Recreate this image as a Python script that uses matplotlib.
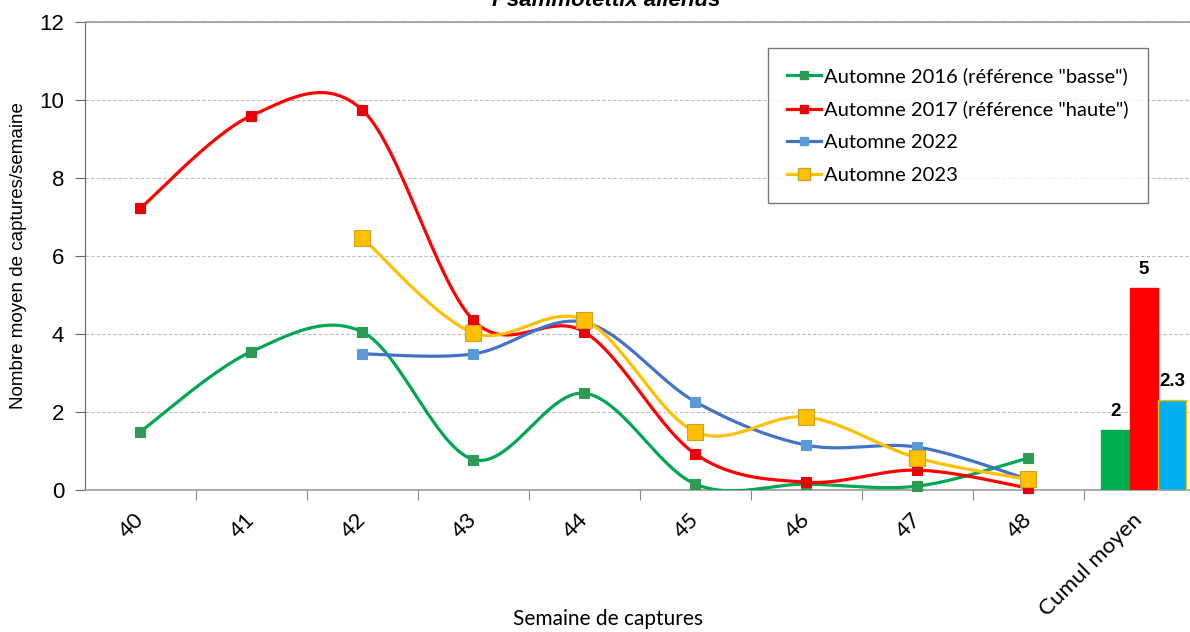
import numpy as np
import matplotlib
matplotlib.use("Agg")
import matplotlib.pyplot as plt
from matplotlib.lines import Line2D

# données
semaines = ["40", "41", "42", "43", "44", "45", "46", "47", "48"]
cumul_label = "Cumul moyen"

aut2016 = [1.5, 3.55, 4.05, 0.78, 2.48, 0.15, 0.15, 0.1, 0.82]
aut2017 = [7.23, 9.6, 9.74, 4.35, 4.05, 0.92, 0.2, 0.51, 0.05]
aut2022 = [None, None, 3.49, 3.49, 4.3, 2.26, 1.15, 1.1, 0.27]
aut2023 = [None, None, 6.46, 4.03, 4.36, 1.49, 1.87, 0.82, 0.27]

cumul_vals = [1.54, 5.18, 2.31]
cumul_txt = ["2", "5", "2.3"]


def lissage(x, y, n=30):
    # courbe lissée façon Excel (bezier, tension 1/6)
    p = np.column_stack([x, y]).astype(float)
    ext = np.vstack([p[0], p, p[-1]])
    out = []
    t = np.linspace(0, 1, n)[:, None]
    for i in range(len(p) - 1):
        p0, p3 = ext[i + 1], ext[i + 2]
        c1 = p0 + (ext[i + 2] - ext[i]) / 6
        c2 = p3 - (ext[i + 3] - ext[i + 1]) / 6
        seg = ((1 - t) ** 3) * p0 + 3 * ((1 - t) ** 2) * t * c1 + 3 * (1 - t) * t ** 2 * c2 + t ** 3 * p3
        out.append(seg)
    s = np.vstack(out)
    return s[:, 0], s[:, 1]


fig = plt.figure(figsize=(11.9, 6.32), dpi=100)
ax = fig.add_axes([85 / 1190, 142 / 632, 1105 / 1190, 468 / 632])

series = [
    (aut2016, "Automne 2016 (référence \"basse\")", "#00A651", "#2E9B55", "#2E9B55", 7.5),
    (aut2017, "Automne 2017 (référence \"haute\")", "#FF0000", "#E8000B", "#E8000B", 7.5),
    (aut2022, "Automne 2022", "#4472C4", "#5B9BD5", "#5B9BD5", 7.5),
    (aut2023, "Automne 2023", "#FFC000", "#FFC000", "#C9A227", 11),
]

handles = []
for vals, lab, lc, mc, me, ms in series:
    xs = [i for i, v in enumerate(vals) if v is not None]
    ys = [v for v in vals if v is not None]
    sx, sy = lissage(xs, ys)
    ax.plot(sx, sy, color=lc, lw=2.3, zorder=3, clip_on=True)
    ax.plot(xs, ys, ls="none", marker="s", ms=ms, mfc=mc, mec=me, mew=0.8, zorder=4, clip_on=False)
    handles.append(Line2D([], [], color=lc, lw=2.3, marker="s", ms=ms * 0.85, mfc=mc, mec=me, label=lab))

# barres du cumul moyen
bw = 0.255
bx = [9.04 - bw, 9.04, 9.04 + bw]
bcol = ["#00B050", "#FF0000", "#00B0F0"]
bedge = ["#00B050", "#FF0000", "#FFC000"]
ax.bar(bx, cumul_vals, width=bw, color=bcol, edgecolor=bedge, linewidth=1, zorder=3)
for x, v, t in zip(bx, cumul_vals, cumul_txt):
    ax.text(x, v + 0.25, t, ha="center", va="bottom", fontsize=13.5, fontweight="bold",
            family="Liberation Sans", zorder=5)

ax.set_ylim(0, 12)
ax.set_xlim(-0.5, 9.455)
ax.set_yticks(range(0, 13, 2))
ax.yaxis.grid(True, ls=(0, (3, 2)), color="#BBBBBB", lw=0.8)
ax.set_axisbelow(True)

ax.set_xticks(np.arange(0.5, 9.5, 1.0), minor=False)
ax.set_xticklabels([])
ax.set_xticks(range(10), minor=True)
ax.set_xticklabels(semaines + [cumul_label], minor=True, rotation=45, ha="right",
                   va="center", rotation_mode="anchor", fontsize=16, family="Lato")
ax.tick_params(axis="x", which="minor", length=0, pad=19)
ax.tick_params(axis="x", which="major", length=7, color="#888888", direction="out")
ax.tick_params(axis="y", length=7, color="#666666", labelsize=16, pad=8)
for lab in ax.get_yticklabels():
    lab.set_family("Liberation Sans")

for sp in ["top", "bottom"]:
    ax.spines[sp].set_color("#999999")
    ax.spines[sp].set_linewidth(1.2)
ax.spines["left"].set_color("#666666")
ax.spines["right"].set_visible(False)

ax.set_ylabel("Nombre moyen de captures/semaine", fontsize=13.5, family="Liberation Sans", labelpad=9)
fig.text(608 / 1190, 3 / 632, "Semaine de captures", ha="center", va="bottom", fontsize=15, family="Lato")
fig.text(606 / 1190, 1 - 6 / 632, "Psammotettix alienus", ha="center", va="baseline",
         fontsize=16, fontweight="bold", style="italic", family="Liberation Sans")

leg = ax.legend(handles=handles, loc="upper left", bbox_to_anchor=((768 - 85) / 1105, (490 - 48) / 468),
                prop={"family": "Lato", "size": 14.5}, frameon=True, fancybox=False,
                edgecolor="#555555", handlelength=1.7, handletextpad=0.15, labelspacing=0.78,
                borderpad=0.95, borderaxespad=0)
leg.get_frame().set_linewidth(1.0)

fig.savefig("out.png", dpi=100)
